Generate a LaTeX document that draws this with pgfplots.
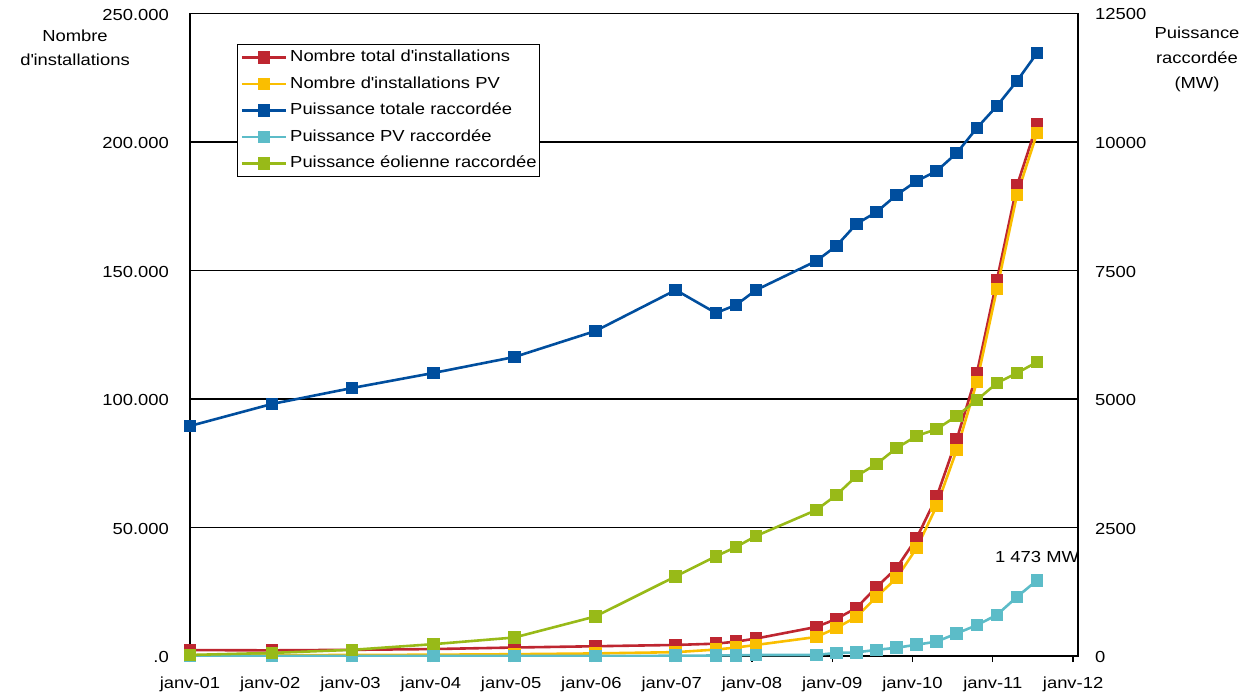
\documentclass[border=0pt]{standalone}
\usepackage{pgfplots}
\pgfplotsset{compat=1.18}
\usepackage{pgfplotstable}
\usepackage{fontspec}
\setmainfont{Liberation Sans}[FakeStretch=1.15]
\newcommand\cf{\fontsize{16}{19}\selectfont}
\newcommand\q{\textquotesingle}

\definecolor{cTot}{RGB}{190,38,48}
\definecolor{cPV}{RGB}{250,190,0}
\definecolor{cPuis}{RGB}{0,78,158}
\definecolor{cPVmw}{RGB}{92,188,200}
\definecolor{cEol}{RGB}{152,186,24}

% Nombre d'installations raccordées
\pgfplotstableread{
x        total   pv
2001     2300    300
2002.02  2200    300
2003.02  2400    400
2004.03  2700    500
2005.04  3300    700
2006.05  3800    1000
2007.05  4300    1500
2007.55  4800    2500
2007.8   5600    3300
2008.05  6800    4300
2008.8   11300   7400
2009.05  14400   10900
2009.3   18700   15200
2009.55  26800   23000
2009.8   34200   30300
2010.05  45900   42000
2010.3   62000   58400
2010.55  84400   80200
2010.8   110000  106600
2011.05  146300  142800
2011.3   183000  179400
2011.55  207000  203500
}\installations

% Puissance raccordée (MW)
\pgfplotstableread{
x        total  pv     eol
2001     4475   0      20
2002.02  4903   0      60
2003.02  5214   0      120
2004.03  5506   0      230
2005.04  5817   0      360
2006.05  6323   0      770
2007.05  7120   5      1550
2007.55  6673   10     1940
2007.8   6829   15     2120
2008.05  7120   20     2335
2008.8   7685   20     2840
2009.05  7977   60     3130
2009.3   8405   70     3500
2009.55  8638   120    3735
2009.8   8969   160    4045
2010.05  9241   220    4280
2010.3   9436   280    4415
2010.55  9786   440    4670
2010.8   10272  600    4980
2011.05  10700  800    5310
2011.3   11187  1150   5505
2011.55  11731  1473   5720
}\puissance

\pgfplotsset{
  base/.style={
    scale only axis, width=888pt, height=642.5pt,
    at={(190pt,40pt)}, anchor=south west,
    xmin=2001, xmax=2012.06,
    every tick label/.append style={font=\cf, inner sep=0pt},
  },
  ser/.style={line width=2.6pt, mark=square*, mark size=5pt, mark options={solid}},
}

\begin{document}
\begin{tikzpicture}
\path[use as bounding box] (0pt,0pt) rectangle (1241pt,696pt);

% Axe de gauche : nombre d'installations
\begin{axis}[base,
  ymin=0, ymax=250000,
  ytick={0,50000,100000,150000,200000,250000},
  yticklabels={.0,50.000,100.000,150.000,200.000,250.000},
  ymajorgrids, grid style={black, line width=1.3pt},
  axis line style={black, line width=1.3pt},
  xtick={2001,...,2012},
  xticklabels={janv-01,janv-02,janv-03,janv-04,janv-05,janv-06,janv-07,janv-08,janv-09,janv-10,janv-11,janv-12},
  xtick pos=lower, ytick pos=left,
  tick align=outside, major tick length=6pt,
  major tick style={black, line width=1.3pt},
  ytick style={draw=none},
  yticklabel style={xshift=-15pt, yshift=-1pt},
  xticklabel style={yshift=-15pt},
]
\addplot[ser, color=cTot] table[x=x, y=total] {\installations};
\addplot[ser, color=cPV]  table[x=x, y=pv]    {\installations};
\end{axis}

% Axe de droite : puissance raccordée
\begin{axis}[base,
  ymin=0, ymax=12500,
  axis x line=none,
  axis y line*=right,
  y axis line style={draw=none},
  ytick={0,2500,5000,7500,10000,12500},
  yticklabels={0,2500,5000,7500,10000,12500},
  ytick style={draw=none},
  yticklabel style={xshift=17pt, yshift=-1pt},
  legend style={at={(axis description cs:0.0529,0.9525)}, anchor=north west,
    draw=black, line width=1.3pt, fill=white,
    inner xsep=3pt, inner ysep=5pt, row sep=10.5pt, column sep=3pt,
    font=\cf, nodes={inner sep=0pt, text height=12pt, text depth=4pt}},
  legend cell align=left,
  every legend image post/.style={line width=2.6pt},
  legend image code/.code={\pgfsetlinewidth{2.6pt}\draw[line width=2.6pt, mark repeat=2, mark phase=2] plot coordinates {(0pt,0pt) (22pt,0pt) (44pt,0pt)};},
]
\addlegendimage{ser, color=cTot}
\addlegendentry{Nombre total d\q installations}
\addlegendimage{ser, color=cPV}
\addlegendentry{Nombre d\q installations PV}
\addplot[ser, color=cPuis] table[x=x, y=total] {\puissance};
\addlegendentry{Puissance totale raccordée}
\addplot[ser, color=cPVmw] table[x=x, y=pv] {\puissance};
\addlegendentry{Puissance PV raccordée}
\addplot[ser, color=cEol] table[x=x, y=eol] {\puissance};
\addlegendentry{Puissance éolienne raccordée}
\node[font=\cf, anchor=south, inner sep=0pt, yshift=17pt] at (axis cs:2011.55,1473) {1 473 MW};
\end{axis}

\node[font={\fontsize{16}{24}\selectfont}, align=center] at (75pt,648pt) {Nombre\\d\q installations};
\node[font={\fontsize{16}{25}\selectfont}, align=center] at (1197pt,637pt) {Puissance\\raccordée\\(MW)};
\end{tikzpicture}
\end{document}
